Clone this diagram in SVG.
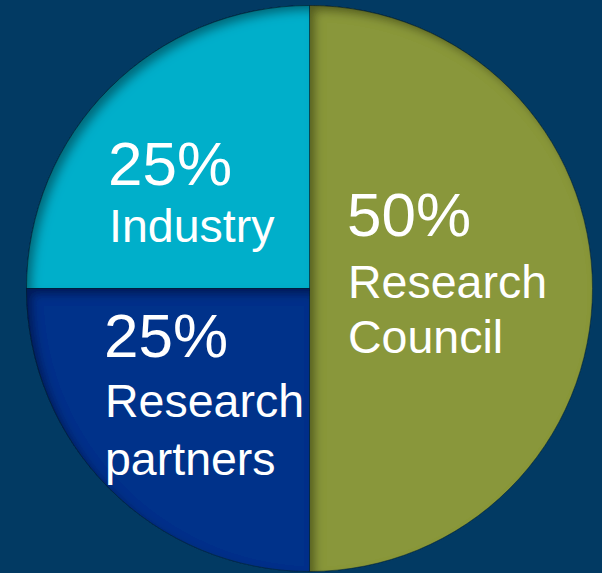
<svg xmlns="http://www.w3.org/2000/svg" width="602" height="573" viewBox="0 0 602 573">
<style>
.lbl{font-family:"Liberation Sans",Arial,sans-serif;fill:#ffffff}
.pct{font-size:62px}
.txt{font-size:46.5px}
.slice{stroke:#0d2a3a;stroke-width:0.8;stroke-opacity:0.7}
</style>
<defs>
<filter id="inset" x="-5%" y="-5%" width="110%" height="110%">
<feComponentTransfer in="SourceAlpha" result="inv"><feFuncA type="table" tableValues="1 0"/></feComponentTransfer>
<feOffset in="inv" dx="6" dy="6" result="off"/>
<feGaussianBlur in="off" stdDeviation="5" result="blur"/>
<feFlood flood-color="#000" flood-opacity="0.65"/>
<feComposite in2="blur" operator="in"/>
<feComposite in2="SourceAlpha" operator="in" result="shadow"/>
<feMerge><feMergeNode in="SourceGraphic"/><feMergeNode in="shadow"/></feMerge>
</filter>
</defs>
<rect width="602" height="573" fill="#023a63"/>
<g id="council">
<path class="slice" d="M309.5,288.5 L309.5,5.5 A283,283 0 0 1 309.5,571.5 Z" fill="#89973a" filter="url(#inset)"/>
<text class="lbl pct" x="347" y="236">50%</text>
<text class="lbl txt" x="348" y="298">Research</text>
<text class="lbl txt" x="348" y="353">Council</text>
</g>
<g id="industry">
<path class="slice" d="M309.5,288.5 L26.5,288.5 A283,283 0 0 1 309.5,5.5 Z" fill="#00afca" filter="url(#inset)"/>
<text class="lbl pct" x="108" y="185">25%</text>
<text class="lbl txt" x="109" y="242">Industry</text>
</g>
<g id="partners">
<path class="slice" d="M309.5,288.5 L309.5,571.5 A283,283 0 0 1 26.5,288.5 Z" fill="#02318a" filter="url(#inset)"/>
<text class="lbl pct" x="104" y="357">25%</text>
<text class="lbl txt" x="105" y="417">Research</text>
<text class="lbl txt" x="105" y="475">partners</text>
</g>
<g id="connectors"/>
</svg>
